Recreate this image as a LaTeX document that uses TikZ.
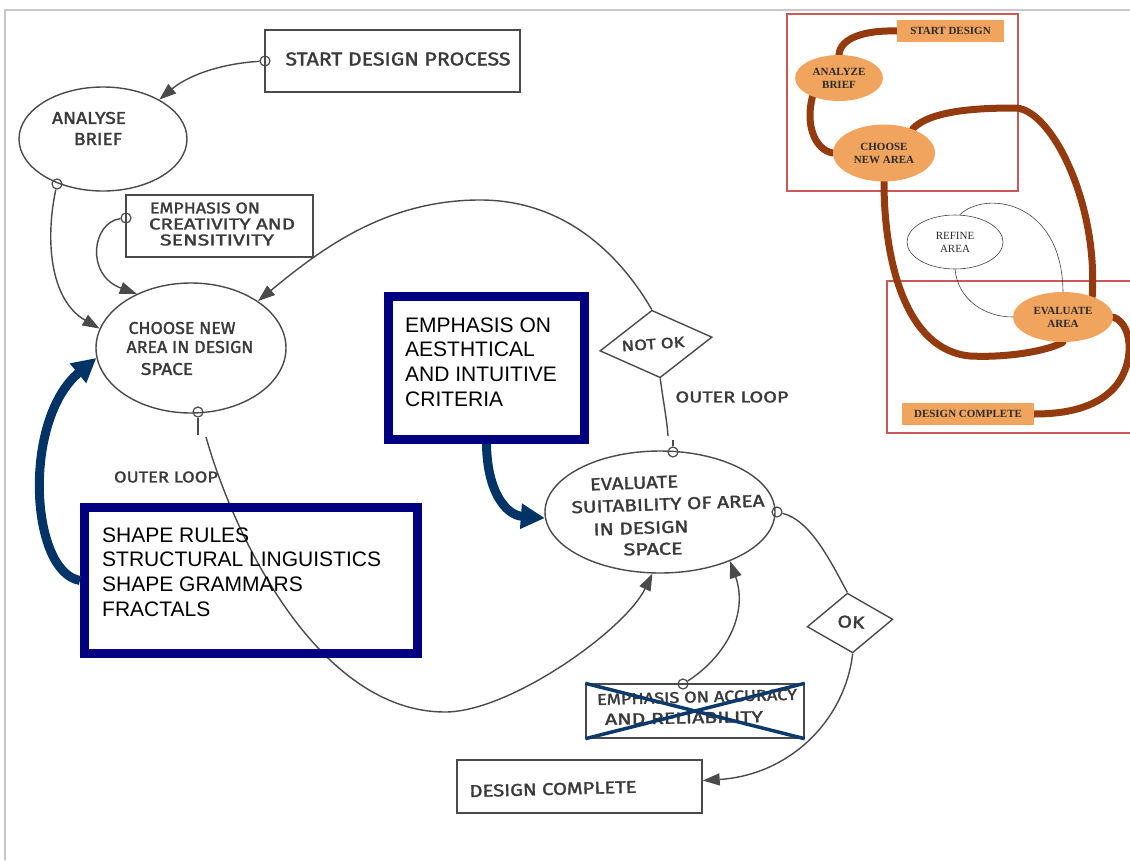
\documentclass[tikz,border=0pt]{standalone}
\usepackage{fontspec}
\usepackage{graphicx}
\setmainfont{Liberation Sans}
\newfontfamily\handfont{Fira Sans}[FakeBold=1.6]
\newfontfamily\insetfont{Liberation Serif}
\usetikzlibrary{shapes.geometric,arrows.meta,calc}
\pgfdeclarelayer{background}
\pgfsetlayers{background,main}

\definecolor{inkgray}{HTML}{4A4A4A}
\definecolor{inktext}{HTML}{3A3A3A}
\definecolor{navybox}{HTML}{000080}
\definecolor{navyarrow}{HTML}{003366}
\definecolor{crossblue}{HTML}{0E3A6B}
\definecolor{framegray}{HTML}{C8C8C8}
\definecolor{orangefill}{HTML}{F1A45E}
\definecolor{brownflow}{HTML}{933A0E}
\definecolor{redframe}{HTML}{C95A57}
\definecolor{insettext}{HTML}{2A2A2A}

% pencil lettering: text squeezed into a given width and cap height
\newcommand{\hw}[3][12pt]{\resizebox{#2}{#1}{\handfont #3}}

\tikzset{
  ink/.style={draw=inkgray, line width=1.4pt},
  harrow/.style={ink, -{Triangle[length=17pt,width=12pt]}},
  sketchbox/.style={ink, rectangle, inner sep=0pt},
  sketchoval/.style={ink, ellipse, inner sep=0pt},
  sketchdiam/.style={ink, diamond, inner sep=0pt},
  joint/.style={draw=inkgray, line width=1.2pt, circle, minimum size=10pt, inner sep=0pt},
  handlabel/.style={inner sep=0pt, text=inktext},
  bluebox/.style={draw=navybox, line width=9pt, rectangle, inner sep=0pt},
  bluetext/.style={inner sep=0pt, align=left, font=\fontsize{21}{24.6}\selectfont, text=black},
  bluearrow/.style={draw=navyarrow, line width=9pt, -{Triangle[length=24pt,width=24pt]}},
  insetfill/.style={fill=orangefill, inner sep=0pt, align=center, text=insettext,
    font=\insetfont\bfseries\fontsize{11}{13}\selectfont},
  insetbox/.style={insetfill, rectangle},
  insetoval/.style={insetfill, ellipse},
  flow/.style={draw=brownflow, line width=7pt, line cap=round},
  thinflow/.style={draw=black!75, line width=0.6pt},
  redbox/.style={draw=redframe, line width=1.4pt}
}

\begin{document}
\begin{tikzpicture}[x=1pt,y=-1pt]
\useasboundingbox (0,0) rectangle (1130,860);
\draw[framegray, line width=2pt] (5,860) -- (5,10) -- (1131,10);

% ---------- pencil sketch: nodes ----------
\node[sketchbox, minimum width=255pt, minimum height=62pt] (start) at (392.5,61) {};
\node[handlabel] (start-t) at (398,59) {\hw[13pt]{225pt}{START DESIGN PROCESS}};
\node[joint] (j-start) at (265,61) {};

\node[sketchoval, minimum width=168pt, minimum height=104pt] (analyse) at (103,139) {};
\node[handlabel] (analyse-t1) at (89,118) {\hw{74pt}{ANALYSE}};
\node[handlabel] (analyse-t2) at (98,139) {\hw{48pt}{BRIEF}};
\node[joint] (j-analyse) at (57,184) {};

\node[sketchbox, minimum width=187pt, minimum height=62pt] (crea) at (219.5,226) {};
\node[handlabel] (crea-t1) at (205,208) {\hw[11pt]{110pt}{EMPHASIS ON}};
\node[handlabel] (crea-t2) at (222,224) {\hw[11pt]{146pt}{CREATIVITY AND}};
\node[handlabel] (crea-t3) at (217,240) {\hw[11pt]{114pt}{SENSITIVITY}};
\node[joint] (j-crea) at (126,218) {};

\node[sketchoval, minimum width=190pt, minimum height=130pt] (choose) at (191,348) {};
\node[handlabel] (choose-t1) at (182,328) {\hw{107pt}{CHOOSE NEW}};
\node[handlabel] (choose-t2) at (190,347) {\hw{127pt}{AREA IN DESIGN}};
\node[handlabel] (choose-t3) at (167,369) {\hw{52pt}{SPACE}};
\node[joint] (j-choose) at (198,412) {};

\node[sketchdiam, rotate=7, minimum width=113pt, minimum height=68pt] (notok) at (656,344) {};
\node[handlabel, rotate=4] (notok-t) at (653,344) {\hw[10.5pt]{63pt}{NOT OK}};

\node[sketchoval, minimum width=230pt, minimum height=122pt] (eval) at (660,512) {};
\node[handlabel, rotate=2] (eval-t1) at (634,483) {\hw{88pt}{EVALUATE}};
\node[handlabel, rotate=2] (eval-t2) at (668,504) {\hw{193pt}{SUITABILITY OF AREA}};
\node[handlabel, rotate=2] (eval-t3) at (641,528) {\hw{95pt}{IN DESIGN}};
\node[handlabel, rotate=1] (eval-t4) at (653,549) {\hw{59pt}{SPACE}};
\node[joint] (j-eval-top) at (673,452) {};
\node[joint] (j-eval-right) at (777,512) {};

\node[sketchdiam, rotate=5, minimum width=86pt, minimum height=60pt] (ok) at (850,623) {};
\node[handlabel, rotate=-3] (ok-t) at (851,622) {\hw{27pt}{OK}};

\node[sketchbox, minimum width=218pt, minimum height=54pt] (acc) at (695,711) {};
\node[handlabel, rotate=1.5] (acc-t1) at (697,697) {\hw[11pt]{200pt}{EMPHASIS ON ACCURACY}};
\node[handlabel, rotate=1] (acc-t2) at (684,718) {\hw[11pt]{158pt}{AND RELIABILITY}};
\node[joint] (j-acc) at (683,684) {};

\node[sketchbox, minimum width=245pt, minimum height=53pt] (done) at (579.5,786.5) {};
\node[handlabel, rotate=1.5] (done-t) at (553,789) {\hw{167pt}{DESIGN COMPLETE}};

\node[handlabel] (outer-left) at (166,477) {\hw[11pt]{104pt}{OUTER LOOP}};
\node[handlabel] (outer-right) at (732,397) {\hw[11pt]{113pt}{OUTER LOOP}};

\coordinate (cut-a) at (668,436);
\coordinate (cut-b) at (673,440);
\coordinate (cut-c) at (198,435);
\coordinate (cut-d) at (206,437);

% ---------- pencil sketch: connectors ----------
\draw[harrow] (j-start) .. controls (215,64) and (185,78) .. (analyse.35);
\draw[harrow] (j-analyse) .. controls (45,240) and (50,300) .. (choose.168);
\draw[harrow] (j-crea) .. controls (92,222) and (85,275) .. (choose.135);
\draw[harrow] (notok.north) .. controls (620,255) and (565,200) .. (480,200)
   .. controls (385,200) and (320,250) .. (choose.35);
\draw[ink] (notok.south) .. controls (663,400) and (667,420) .. (cut-a);
\draw[ink] (cut-b) -- (j-eval-top);
\draw[ink] (j-choose) -- (cut-c);
\draw[harrow] (cut-d) .. controls (235,540) and (320,712) .. (445,712)
   .. controls (510,712) and (625,630) .. (eval.263);
\draw[harrow] (j-acc) .. controls (728,655) and (748,612) .. (eval.325);
\draw[ink] (j-eval-right) .. controls (810,520) and (830,560) .. (ok.north);
\draw[harrow] (ok.south) .. controls (845,720) and (790,775) .. ([yshift=6pt]done.east);

% ---------- blue annotations ----------
\node[bluebox, minimum width=333pt, minimum height=146pt] (rulesbox) at (251,580.5) {};
\node[bluetext, anchor=north west] (rules-t) at (102,527.5)
  {SHAPE RULES\\STRUCTURAL LINGUISTICS\\SHAPE GRAMMARS\\FRACTALS};
\node[bluebox, minimum width=196pt, minimum height=143pt] (critbox) at (486.5,368) {};
\node[bluetext, anchor=north west] (crit-t) at (405,317.5)
  {EMPHASIS ON\\AESTHTICAL\\AND INTUITIVE\\CRITERIA};
\draw[bluearrow] (rulesbox.west) .. controls (30,572) and (22,420) .. (choose.186);
\draw[bluearrow] (critbox.south) .. controls (487,490) and (505,515) .. (eval.183);
\draw[crossblue, line width=3.5pt] (acc.north west) -- (acc.south east);
\draw[crossblue, line width=3.5pt] (acc.south west) -- (acc.north east);

% ---------- summary flow ----------
\node[insetbox, minimum width=107pt, minimum height=22pt] (i-start) at (950.5,31) {START DESIGN};
\node[insetoval, minimum width=88pt, minimum height=46pt] (i-analyze) at (839,78) {ANALYZE\\BRIEF};
\node[insetoval, minimum width=102pt, minimum height=57pt] (i-choose) at (884,153) {CHOOSE\\NEW AREA};
\node[ellipse, draw=black!75, line width=0.6pt, inner sep=0pt, align=center, text=insettext,
  font=\insetfont\fontsize{11}{13}\selectfont, minimum width=96pt, minimum height=54pt]
  (i-refine) at (955,242) {REFINE\\AREA};
\node[insetoval, minimum width=100pt, minimum height=50pt] (i-evaluate) at (1063,317) {EVALUATE\\AREA};
\node[insetbox, minimum width=132pt, minimum height=22pt] (i-done) at (968,414) {DESIGN COMPLETE};

\begin{pgfonlayer}{background}
\draw[redbox] (787,14) rectangle (1018,191);
\draw[redbox] (887,281) rectangle (1133,433);
\draw[thinflow] (i-refine.80) .. controls (985,190) and (1062,200) .. (i-evaluate.north);
\draw[thinflow] (i-refine.south) .. controls (958,300) and (985,317) .. (i-evaluate.west);
\draw[flow] (i-start.west) .. controls (865,30) and (840,38) .. (i-analyze.north);
\draw[flow] (i-analyze.215) .. controls (805,125) and (815,150) .. (i-choose.west);
\draw[flow] (i-choose.40) .. controls (930,110) and (980,108) .. (1015,108)
   .. controls (1050,108) and (1098,200) .. (i-evaluate.35);
\draw[flow] (i-choose.south) .. controls (884,260) and (905,350) .. (970,356)
   .. controls (1010,358) and (1050,350) .. (i-evaluate.south);
\draw[flow] (i-evaluate.east) .. controls (1135,325) and (1135,370) .. (1110,392)
   .. controls (1090,410) and (1060,414) .. (i-done.east);
\end{pgfonlayer}
\end{tikzpicture}
\end{document}
